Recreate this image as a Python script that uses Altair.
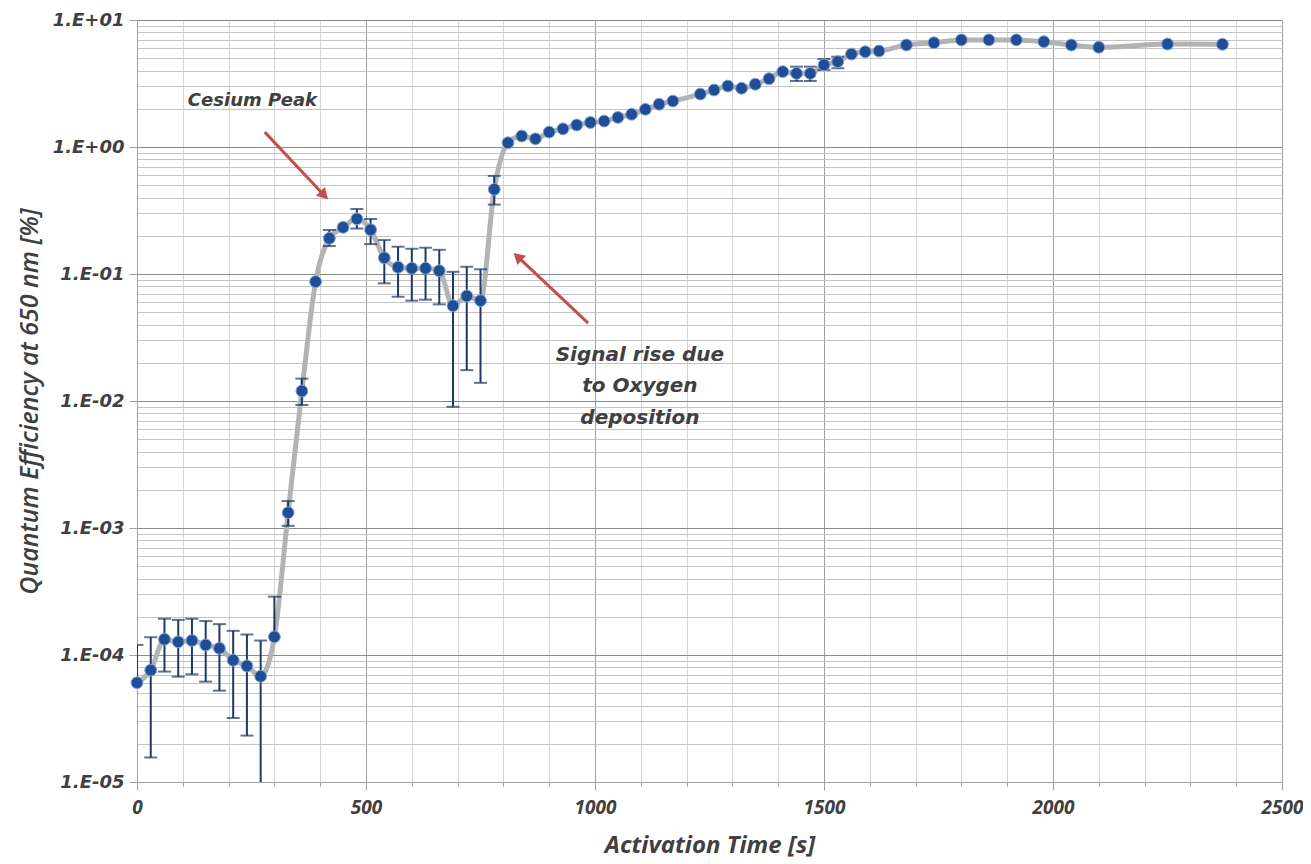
import altair as alt
import pandas as pd

# ---------------- data ----------------
time_s = [0, 30, 60, 90, 120, 150, 180, 210, 240, 270, 300,
          330, 360, 390, 420, 450, 480, 510, 540, 570, 600, 630, 660, 690, 720, 750,
          780, 810, 840, 870, 900, 930, 960, 990, 1020, 1050, 1080, 1110, 1140, 1170,
          1230, 1260, 1290, 1320, 1350, 1380, 1410, 1440, 1470, 1500, 1530, 1560, 1590, 1620,
          1680, 1740, 1800, 1860, 1920, 1980, 2040, 2100, 2250, 2370]

qe = [6.05e-5, 7.6e-5, 1.33e-4, 1.27e-4, 1.30e-4, 1.20e-4, 1.13e-4, 9.1e-5, 8.2e-5, 6.8e-5, 1.39e-4,
      1.32e-3, 1.20e-2, 8.7e-2, 0.191, 0.233, 0.272, 0.223, 0.134, 0.113, 0.111, 0.111, 0.106, 0.0562, 0.0671, 0.0617,
      0.464, 1.08, 1.22, 1.16, 1.31, 1.39, 1.49, 1.56, 1.60, 1.71, 1.81, 1.98, 2.17, 2.30,
      2.61, 2.81, 3.02, 2.90, 3.12, 3.45, 3.92, 3.80, 3.80, 4.43, 4.70, 5.39, 5.62, 5.70,
      6.36, 6.62, 6.97, 6.97, 6.97, 6.75, 6.36, 6.10, 6.47, 6.44]

# error bar ends (None = not drawn)
err_lo = [None, 1.56e-5, 7.4e-5, 6.75e-5, 7.05e-5, 6.17e-5, 5.24e-5, 3.19e-5, 2.32e-5, 5e-6, None,
          1.04e-3, 9.3e-3, None, 0.166, None, 0.228, 0.172, 0.0845, 0.0662, 0.0617, 0.0628, 0.0577, 9.0e-3, 0.0175, 0.0139,
          0.352, None, None, None, None, None, None, None, None, None, None, None, None, None,
          None, None, None, None, None, None, None, 3.31, 3.31, 4.04, 4.17, None, None, None,
          None, None, None, None, None, None, None, None, None, None]
err_hi = [1.2e-4, 1.38e-4, 1.93e-4, 1.89e-4, 1.93e-4, 1.85e-4, 1.75e-4, 1.55e-4, 1.45e-4, 1.30e-4, 2.88e-4,
          1.63e-3, 1.5e-2, None, 0.222, None, 0.325, 0.271, 0.185, 0.164, 0.158, 0.161, 0.155, 0.104, 0.114, 0.109,
          0.592, None, None, None, None, None, None, None, None, None, None, None, None, None,
          None, None, None, None, None, None, None, 4.29, 4.29, 4.93, 5.14, None, None, None,
          None, None, None, None, None, None, None, None, None, None]

# annotations
peak_text = ["Cesium Peak"]
peak_x = [111]
peak_y = [2.30]

rise_text = ["Signal rise due", "to Oxygen", "deposition"]
rise_x = [1098, 1098, 1098]
rise_y = [0.0230, 0.01312, 0.00734]

arrow_x = [279, 985]
arrow_y = [1.31, 0.0411]
arrow_x2 = [406, 834]
arrow_y2 = [0.427, 0.134]
arrow_angle = [136, 313]

# ---------------- tables ----------------
df = pd.DataFrame({"t": time_s, "qe": qe, "lo": err_lo, "hi": err_hi})
df["lo_f"] = df["lo"].where(df["lo"].notna(), df["qe"])
df["hi_f"] = df["hi"].where(df["hi"].notna(), df["qe"])
bars = df[df["lo"].notna() | df["hi"].notna()].copy()
caps_hi = df[df["hi"].notna()][["t", "hi"]].rename(columns={"hi": "v"})
caps_lo = df[df["lo"].notna()][["t", "lo"]].rename(columns={"lo": "v"})
caps = pd.concat([caps_hi, caps_lo], ignore_index=True)

peak = pd.DataFrame({"text": peak_text, "x": peak_x, "y": peak_y})
rise = pd.DataFrame({"text": rise_text, "x": rise_x, "y": rise_y})
arrows = pd.DataFrame({"x": arrow_x, "y": arrow_y, "x2": arrow_x2, "y2": arrow_y2, "angle": arrow_angle})

TXT = "#404040"
y_vals = []
for k in range(-5, 1):
    for m in range(1, 10):
        y_vals.append(float(f"{m}e{k}"))
y_vals.append(10.0)

is_decade = "abs(log(datum.value)/LN10 - round(log(datum.value)/LN10)) < 0.001"

x_scale = alt.Scale(domain=[0, 2500], nice=False, zero=False)
y_scale = alt.Scale(type="log", domain=[1e-5, 10], nice=False)

x_axis = alt.Axis(
    title="Activation Time [s]",
    values=list(range(0, 2501, 100)),
    labelExpr="datum.value % 500 == 0 ? datum.label : ''",
    format="d",
    gridColor={"condition": {"test": "datum.value % 500 == 0", "value": "#a0a0a0"}, "value": "#d4d4d4"},
    tickSize={"condition": {"test": "datum.value % 500 == 0", "value": 8}, "value": 4},
    tickColor="#a0a0a0",
    domainColor="#a0a0a0",
    labelFont="Open Sans", labelFontStyle="italic", labelFontWeight="bold", labelFontSize=19,
    labelColor=TXT, labelPadding=8, labelFlush=False,
    titleFont="Open Sans", titleFontStyle="italic", titleFontWeight="bold", titleFontSize=24,
    titleColor=TXT, titlePadding=16,
)
y_axis = alt.Axis(
    title="Quantum Efficiency at 650 nm [%]",
    values=y_vals,
    labelExpr=is_decade + " ? '1.E' + (datum.value >= 1 ? '+' : '-') + '0' + abs(round(log(datum.value)/LN10)) : ''",
    gridColor={"condition": {"test": is_decade, "value": "#8c8c8c"}, "value": "#c4c4c4"},
    tickOpacity={"condition": {"test": is_decade, "value": 1}, "value": 0},
    tickSize=8, tickColor="#a0a0a0", domainColor="#a0a0a0",
    labelFont="DejaVu Sans", labelFontStyle="italic", labelFontWeight="bold", labelFontSize=18,
    labelColor=TXT, labelPadding=5, labelFlush=False,
    titleFont="Open Sans", titleFontStyle="italic", titleFontWeight=600, titleFontSize=25,
    titleColor=TXT, titlePadding=10,
)

base = alt.Chart(df)

line = base.mark_line(color="#b3b3b3", strokeWidth=5, interpolate="monotone", clip=True).encode(
    x=alt.X("t:Q", scale=x_scale, axis=x_axis),
    y=alt.Y("qe:Q", scale=y_scale, axis=y_axis),
)

rules = alt.Chart(bars).mark_rule(color="#1f3864", strokeWidth=2, clip=True).encode(
    x=alt.X("t:Q", scale=x_scale),
    y=alt.Y("lo_f:Q", scale=y_scale),
    y2="hi_f:Q",
)

cap_marks = alt.Chart(caps).mark_tick(color="#1f3864", thickness=2, size=13, orient="horizontal", clip=True).encode(
    x=alt.X("t:Q", scale=x_scale),
    y=alt.Y("v:Q", scale=y_scale),
)

points = base.mark_point(filled=True, shape="circle", size=140, color="#1f4e96",
                         stroke="#7fa3d4", strokeWidth=1, opacity=1).encode(
    x=alt.X("t:Q", scale=x_scale),
    y=alt.Y("qe:Q", scale=y_scale),
)

peak_mark = alt.Chart(peak).mark_text(
    font="DejaVu Sans", fontStyle="italic", fontWeight="bold", fontSize=18,
    color=TXT, baseline="middle", align="left",
).encode(
    x=alt.X("x:Q", scale=x_scale),
    y=alt.Y("y:Q", scale=y_scale),
    text="text:N",
)
rise_mark = alt.Chart(rise).mark_text(
    font="DejaVu Sans", fontStyle="italic", fontWeight="bold", fontSize=20,
    color=TXT, baseline="middle", align="center",
).encode(
    x=alt.X("x:Q", scale=x_scale),
    y=alt.Y("y:Q", scale=y_scale),
    text="text:N",
)

arrow_lines = alt.Chart(arrows).mark_rule(color="#c0504d", strokeWidth=3).encode(
    x=alt.X("x:Q", scale=x_scale),
    y=alt.Y("y:Q", scale=y_scale),
    x2="x2:Q",
    y2="y2:Q",
)
arrow_heads = alt.Chart(arrows).mark_point(shape="triangle", filled=True, size=160,
                                          color="#c0504d", opacity=1).encode(
    x=alt.X("x2:Q", scale=x_scale),
    y=alt.Y("y2:Q", scale=y_scale),
    angle=alt.Angle("angle:Q", scale=None),
)

chart = alt.layer(line, rules, cap_marks, points, peak_mark, rise_mark, arrow_lines, arrow_heads).properties(
    width=1145, height=762,
    autosize="none",
    padding={"left": 129, "top": 12, "right": 21, "bottom": 82},
).configure_view(stroke=None).configure(background="white")

chart.save("out.html", embed_options={"renderer": "svg", "actions": False})
